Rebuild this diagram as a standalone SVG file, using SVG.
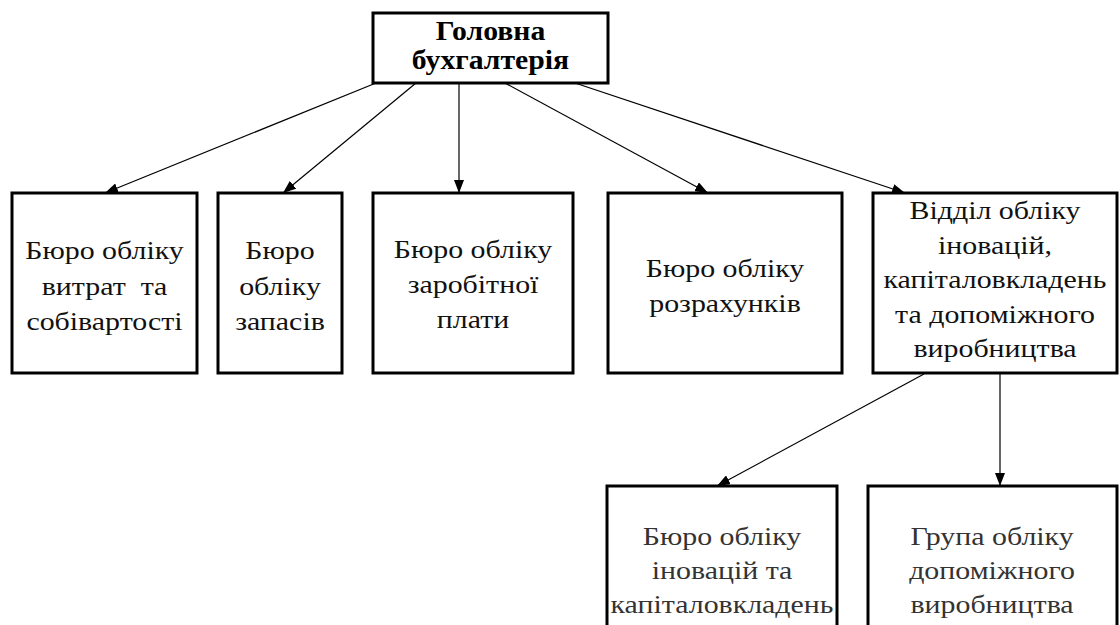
<svg xmlns="http://www.w3.org/2000/svg" width="1120" height="625" viewBox="0 0 1120 625">
<defs>
<marker id="ah" markerUnits="userSpaceOnUse" markerWidth="14" markerHeight="10" refX="13" refY="5" orient="auto">
<path d="M0,0 L13,5 L0,10 z" fill="#000"/>
</marker>
<style>
.box{fill:#fff;stroke:#000;stroke-width:3}
.ln{stroke:#000;stroke-width:1.2;fill:none;marker-end:url(#ah)}
text{font-family:"Liberation Serif","DejaVu Serif",serif;font-size:26px;fill:#111;text-anchor:middle}
.tb{font-weight:bold;fill:#000;font-size:27px}
.tg{fill:#333}
</style>
</defs>
<rect width="1120" height="625" fill="#fff"/>
<g id="connectors">
<line class="ln" x1="376" y1="83" x2="105" y2="193"/>
<line class="ln" x1="416" y1="83" x2="283" y2="193"/>
<line class="ln" x1="459" y1="83" x2="459" y2="193"/>
<line class="ln" x1="505" y1="83" x2="708" y2="193"/>
<line class="ln" x1="575" y1="83" x2="905" y2="193"/>
<line class="ln" x1="924" y1="374" x2="717" y2="486"/>
<line class="ln" x1="1000" y1="374" x2="1000" y2="486"/>
</g>
<g id="n0">
<rect class="box" x="373" y="13" width="235" height="70"/>
<text class="tb" transform="translate(490.5,40) scale(1.1,1)">Головна</text>
<text class="tb" transform="translate(490.5,69) scale(1.1,1)">бухгалтерія</text>
</g>
<g id="n1">
<rect class="box" x="12" y="193" width="185" height="180"/>
<text transform="translate(104.5,259) scale(1.15,1)">Бюро обліку</text>
<text transform="translate(104.5,295) scale(1.15,1)" style="white-space:pre">витрат  та</text>
<text transform="translate(104.5,330) scale(1.15,1)">собівартості</text>
</g>
<g id="n2">
<rect class="box" x="218" y="193" width="124" height="180"/>
<text transform="translate(280,259) scale(1.15,1)">Бюро</text>
<text transform="translate(280,295) scale(1.15,1)">обліку</text>
<text transform="translate(280,330) scale(1.15,1)">запасів</text>
</g>
<g id="n3">
<rect class="box" x="373" y="193" width="200" height="180"/>
<text transform="translate(473,258) scale(1.15,1)">Бюро обліку</text>
<text transform="translate(473,293) scale(1.15,1)">заробітної</text>
<text transform="translate(473,328) scale(1.15,1)">плати</text>
</g>
<g id="n4">
<rect class="box" x="608" y="193" width="234" height="180"/>
<text transform="translate(725,277) scale(1.15,1)">Бюро обліку</text>
<text transform="translate(725,312) scale(1.15,1)">розрахунків</text>
</g>
<g id="n5">
<rect class="box" x="873" y="193" width="244" height="180"/>
<text transform="translate(995,219) scale(1.15,1)">Відділ обліку</text>
<text transform="translate(995,254) scale(1.15,1)">іновацій,</text>
<text transform="translate(995,288) scale(1.15,1)">капіталовкладень</text>
<text transform="translate(995,323) scale(1.15,1)">та допоміжного</text>
<text transform="translate(995,357) scale(1.15,1)">виробництва</text>
</g>
<g id="n6">
<rect class="box" x="607" y="486" width="230" height="160"/>
<text class="tg" transform="translate(722,545) scale(1.15,1)">Бюро обліку</text>
<text class="tg" transform="translate(722,579) scale(1.15,1)">іновацій та</text>
<text class="tg" transform="translate(722,613) scale(1.15,1)">капіталовкладень</text>
</g>
<g id="n7">
<rect class="box" x="868" y="486" width="249" height="160"/>
<text class="tg" transform="translate(992,545) scale(1.15,1)">Група обліку</text>
<text class="tg" transform="translate(992,579) scale(1.15,1)">допоміжного</text>
<text class="tg" transform="translate(992,613) scale(1.15,1)">виробництва</text>
</g>
</svg>
